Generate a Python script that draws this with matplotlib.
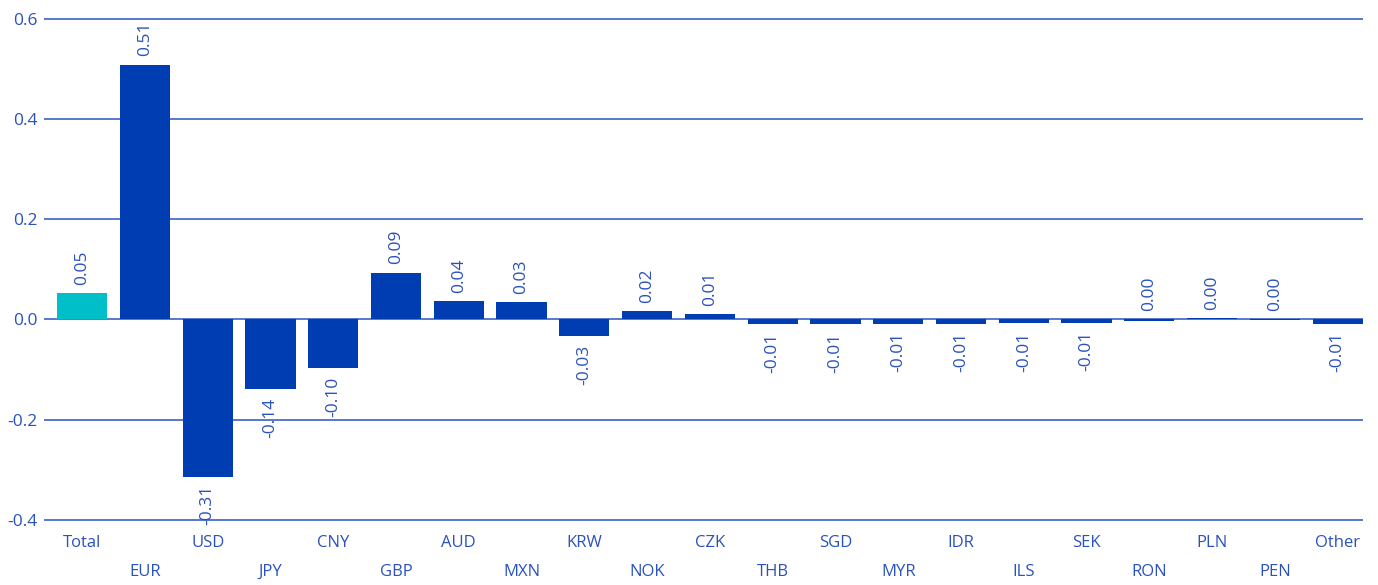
import matplotlib
matplotlib.use("Agg")
import matplotlib.pyplot as plt
import numpy as np

plt.rcParams['font.family'] = ['Open Sans', 'DejaVu Sans']
plt.rcParams['axes.unicode_minus'] = False

currencies = ["Total", "EUR", "USD", "JPY", "CNY", "GBP", "AUD", "MXN", "KRW", "NOK", "CZK",
              "THB", "SGD", "MYR", "IDR", "ILS", "SEK", "RON", "PLN", "PEN", "Other"]
values = [0.052, 0.508, -0.314, -0.139, -0.097, 0.093, 0.036, 0.034, -0.033, 0.016, 0.010,
          -0.010, -0.010, -0.009, -0.009, -0.008, -0.007, -0.003, 0.003, -0.002, -0.009]

bar_blue = "#003DB2"
total_teal = "#00BFC8"
text_blue = "#2A52BE"
grid_blue = "#2A55C0"

x = np.arange(len(currencies))
colors = [total_teal] + [bar_blue] * (len(currencies) - 1)

fig = plt.figure(figsize=(13.78, 5.85), dpi=100)
ax = fig.add_axes([0.032, 0.1095, 0.957, 0.8605])

ax.bar(x, values, width=0.8, color=colors, zorder=3)

for xi, v in zip(x, values):
    lab = "%.2f" % v
    if lab == "-0.00":
        lab = "0.00"
    if lab.startswith("-"):
        ax.annotate(lab, (xi, v), xytext=(0, -6), textcoords="offset points",
                    rotation=90, ha="center", va="top", color=text_blue, fontsize=12.5)
    else:
        ax.annotate(lab, (xi, max(v, 0)), xytext=(0, 6), textcoords="offset points",
                    rotation=90, ha="center", va="bottom", color=text_blue, fontsize=12.5)

ax.set_ylim(-0.402, 0.602)
ax.set_xlim(-0.605, 20.4)
ax.set_yticks([-0.4, -0.2, 0.0, 0.2, 0.4, 0.6])
ax.set_yticklabels(["%.1f" % t for t in [-0.4, -0.2, 0.0, 0.2, 0.4, 0.6]])
ax.yaxis.grid(True, color=grid_blue, linewidth=1.1, zorder=1)
ax.set_axisbelow(True)

# alternate labels on two rows
ax.set_xticks(x[::2])
ax.set_xticklabels(currencies[::2])
ax.set_xticks(x[1::2], minor=True)
ax.set_xticklabels(currencies[1::2], minor=True)
ax.tick_params(axis="x", which="major", length=0, pad=10, labelsize=12, labelcolor=text_blue)
ax.tick_params(axis="x", which="minor", length=0, pad=31, labelsize=12, labelcolor=text_blue)
ax.tick_params(axis="y", length=0, pad=5, labelsize=12.5, labelcolor=text_blue)

for s in ax.spines.values():
    s.set_visible(False)

fig.savefig("out.png", dpi=100)
